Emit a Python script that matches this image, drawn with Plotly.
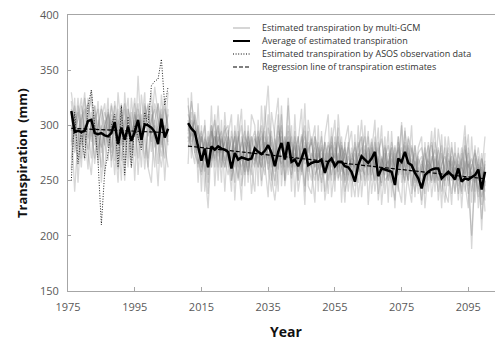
import numpy as np
import plotly.graph_objects as go

# ---- years ----
hist_years = list(range(1976, 2006))
fut_years = list(range(2011, 2101))

# ---- multi-GCM transpiration estimates, baseline period (mm) ----
gcm_hist = [
    [330, 305, 280, 318, 295, 260, 312, 290, 322, 275, 300, 285, 310, 268, 330, 295, 280, 315, 300, 272, 345, 290, 305, 320, 285, 300, 265, 328, 295, 310],
    [285, 318, 300, 270, 325, 300, 285, 310, 265, 305, 320, 280, 295, 318, 260, 300, 315, 270, 325, 290, 300, 262, 318, 305, 330, 280, 295, 310, 250, 300],
    [300, 240, 290, 310, 285, 325, 298, 270, 305, 290, 255, 315, 280, 300, 285, 320, 265, 305, 278, 312, 288, 300, 270, 295, 318, 290, 245, 305, 325, 285],
    [315, 290, 325, 282, 300, 295, 270, 318, 288, 262, 300, 310, 275, 322, 300, 268, 305, 290, 312, 250, 315, 298, 285, 262, 300, 335, 310, 280, 300, 290],
    [270, 300, 312, 290, 268, 310, 325, 282, 300, 315, 285, 268, 305, 292, 315, 282, 300, 325, 275, 298, 320, 282, 300, 318, 276, 305, 320, 290, 270, 315],
    [322, 285, 270, 305, 315, 288, 300, 265, 292, 318, 298, 280, 320, 300, 272, 310, 290, 262, 300, 325, 285, 310, 292, 270, 310, 288, 300, 315, 282, 262],
    [295, 310, 292, 262, 310, 320, 290, 300, 278, 296, 312, 300, 268, 285, 305, 290, 250, 315, 290, 305, 270, 328, 298, 310, 292, 262, 320, 300, 318, 295],
    [308, 275, 318, 300, 280, 305, 332, 295, 270, 300, 282, 312, 298, 255, 300, 318, 285, 300, 268, 302, 310, 280, 320, 290, 305, 315, 290, 272, 300, 282],
    [282, 298, 305, 325, 292, 278, 300, 318, 290, 280, 305, 295, 318, 290, 248, 305, 320, 296, 285, 310, 295, 305, 260, 300, 292, 320, 305, 282, 315, 300],
    [260, 325, 248, 300, 330, 275, 255, 305, 315, 248, 290, 325, 262, 310, 295, 250, 330, 285, 262, 320, 255, 300, 330, 262, 248, 305, 282, 262, 290, 330],
]

# ---- multi-GCM transpiration estimates, 2011-2100 (mm) ----
gcm_fut = [
    [310, 300, 285, 270, 255, 290, 248, 295, 282, 300,
     268, 285, 296, 250, 280, 262, 290, 275, 258, 285,
     295, 270, 282, 300, 336, 270, 250, 285, 300, 262,
     318, 255, 280, 262, 285, 300, 250, 272, 290, 260,
     275, 240, 262, 285, 255, 270, 290, 248, 265, 255,
     235, 270, 305, 262, 280, 250, 290, 238, 270, 262,
     268, 250, 232, 285, 262, 295, 270, 255, 240, 262,
     228, 262, 270, 250, 285, 268, 240, 262, 275, 250,
     262, 238, 270, 300, 245, 258, 230, 272, 205, 268],
    [295, 322, 300, 290, 275, 268, 285, 270, 295, 262,
     290, 270, 255, 275, 290, 250, 275, 262, 285, 270,
     262, 290, 270, 255, 298, 282, 265, 310, 255, 280,
     272, 290, 258, 282, 268, 245, 285, 262, 250, 275,
     262, 280, 250, 268, 290, 252, 262, 275, 240, 268,
     262, 248, 275, 290, 255, 280, 262, 272, 248, 275,
     250, 275, 262, 240, 303, 262, 250, 280, 265, 238,
     265, 245, 258, 282, 250, 268, 255, 230, 262, 272,
     240, 268, 252, 262, 275, 188, 262, 250, 275, 245],
    [300, 285, 310, 295, 285, 300, 262, 290, 305, 275,
     282, 300, 268, 290, 262, 285, 300, 255, 275, 290,
     275, 262, 295, 278, 265, 290, 275, 260, 295, 270,
     300, 270, 285, 250, 292, 268, 278, 285, 262, 280,
     265, 285, 272, 255, 280, 268, 250, 278, 262, 270,
     280, 265, 250, 278, 268, 285, 262, 250, 272, 258,
     275, 262, 280, 255, 270, 248, 282, 262, 250, 272,
     258, 275, 262, 248, 270, 255, 262, 280, 245, 262,
     255, 262, 240, 268, 250, 262, 278, 240, 255, 290],
    [285, 295, 275, 265, 290, 258, 282, 300, 268, 290,
     275, 262, 290, 280, 248, 295, 268, 285, 270, 255,
     288, 280, 262, 290, 275, 250, 288, 272, 265, 290,
     262, 278, 270, 290, 255, 282, 265, 250, 285, 270,
     280, 262, 285, 268, 262, 285, 270, 262, 280, 250,
     268, 285, 262, 255, 275, 262, 280, 268, 255, 282,
     262, 248, 270, 278, 255, 282, 262, 270, 248, 265,
     272, 250, 268, 262, 255, 280, 262, 250, 268, 255,
     268, 250, 262, 240, 265, 255, 248, 262, 235, 250],
    [318, 290, 295, 280, 262, 285, 275, 262, 290, 282,
     262, 290, 275, 268, 295, 278, 255, 290, 282, 268,
     280, 295, 268, 285, 260, 278, 262, 295, 285, 250,
     285, 262, 275, 268, 280, 290, 258, 275, 268, 285,
     255, 270, 282, 262, 275, 258, 280, 250, 272, 262,
     250, 275, 268, 282, 250, 270, 285, 262, 245, 270,
     282, 265, 250, 268, 280, 262, 288, 245, 268, 255,
     250, 268, 282, 260, 248, 297, 270, 258, 250, 280,
     262, 245, 275, 255, 268, 240, 262, 280, 252, 262],
    [288, 305, 292, 275, 280, 262, 225, 285, 270, 295,
     280, 268, 285, 262, 275, 290, 270, 258, 290, 275,
     268, 282, 290, 262, 285, 270, 245, 280, 270, 285,
     270, 285, 262, 272, 290, 265, 270, 288, 255, 262,
     282, 255, 270, 290, 262, 275, 258, 285, 250, 275,
     262, 280, 290, 250, 268, 275, 262, 285, 268, 250,
     255, 280, 262, 290, 248, 270, 275, 262, 282, 248,
     262, 280, 250, 272, 262, 240, 275, 262, 255, 268,
     250, 275, 262, 255, 280, 250, 270, 255, 262, 240],
    [305, 280, 298, 262, 290, 275, 290, 268, 282, 300,
     275, 285, 262, 295, 270, 252, 282, 295, 262, 280,
     290, 262, 278, 295, 270, 285, 268, 290, 262, 278,
     290, 268, 282, 258, 275, 295, 262, 268, 280, 250,
     270, 258, 275, 282, 250, 265, 282, 270, 255, 280,
     258, 272, 280, 262, 290, 255, 270, 280, 262, 255,
     270, 255, 282, 262, 268, 255, 290, 275, 255, 270,
     245, 258, 272, 285, 262, 250, 265, 272, 260, 238,
     262, 255, 280, 262, 238, 265, 250, 270, 248, 265],
    [292, 312, 280, 300, 268, 288, 280, 295, 262, 285,
     295, 262, 280, 270, 290, 268, 285, 272, 255, 290,
     265, 285, 300, 270, 290, 262, 275, 300, 280, 268,
     325, 275, 268, 290, 262, 280, 272, 262, 290, 278,
     262, 285, 260, 275, 270, 290, 262, 255, 285, 262,
     275, 258, 270, 262, 280, 262, 250, 275, 288, 265,
     262, 285, 270, 255, 275, 262, 250, 282, 262, 275,
     280, 262, 255, 268, 278, 262, 282, 250, 270, 262,
     275, 262, 250, 278, 262, 270, 255, 242, 270, 258],
    [280, 295, 305, 285, 295, 270, 262, 280, 290, 272,
     288, 275, 290, 258, 282, 270, 262, 280, 295, 262,
     282, 270, 262, 285, 278, 295, 258, 270, 290, 275,
     278, 262, 290, 270, 258, 285, 275, 290, 262, 272,
     290, 262, 275, 250, 285, 262, 272, 280, 262, 255,
     285, 262, 258, 275, 262, 288, 250, 270, 262, 280,
     250, 270, 262, 280, 265, 285, 255, 262, 275, 250,
     268, 255, 265, 250, 272, 262, 250, 265, 280, 255,
     270, 250, 265, 282, 255, 262, 275, 262, 215, 250],
    [325, 270, 312, 248, 300, 240, 295, 262, 310, 250,
     305, 240, 290, 310, 232, 285, 315, 245, 300, 262,
     240, 305, 250, 318, 262, 240, 300, 325, 245, 290,
     255, 300, 235, 285, 315, 240, 295, 262, 230, 300,
     240, 290, 310, 235, 262, 298, 230, 285, 300, 235,
     292, 235, 262, 300, 228, 275, 305, 232, 260, 290,
     230, 295, 248, 270, 300, 228, 262, 300, 235, 280,
     290, 225, 262, 295, 240, 278, 225, 290, 262, 228,
     285, 232, 270, 248, 225, 290, 240, 265, 228, 275],
    [265, 330, 275, 300, 240, 305, 255, 318, 245, 290,
     248, 312, 270, 240, 300, 262, 232, 305, 248, 310,
     300, 245, 318, 265, 235, 312, 290, 240, 310, 250,
     295, 240, 310, 250, 275, 228, 305, 282, 300, 240,
     295, 232, 255, 298, 240, 310, 265, 230, 280, 295,
     245, 300, 235, 270, 295, 238, 265, 298, 228, 262,
     295, 235, 275, 245, 230, 298, 248, 230, 282, 260,
     232, 285, 240, 265, 298, 232, 262, 245, 290, 262,
     238, 280, 225, 268, 292, 230, 282, 225, 260, 232],
    [290, 280, 265, 320, 258, 275, 238, 300, 275, 318,
     262, 295, 300, 250, 268, 310, 245, 268, 290, 238,
     268, 290, 245, 275, 310, 255, 232, 262, 318, 245,
     272, 252, 295, 240, 262, 320, 245, 238, 275, 265,
     248, 275, 238, 280, 305, 250, 285, 240, 255, 270,
     268, 255, 290, 245, 262, 280, 240, 265, 300, 238,
     265, 280, 225, 290, 262, 250, 280, 238, 262, 245,
     260, 238, 285, 235, 262, 250, 292, 240, 230, 285,
     250, 265, 238, 290, 240, 200, 255, 235, 270, 222],
]

# ---- ensemble average (mm) ----
avg_hist = [313, 294, 295, 294, 295, 304, 305, 293, 292, 293,
            291, 290, 293, 303, 283, 298, 287, 299, 286, 294,
            305, 287, 301, 300, 298, 294, 283, 306, 289, 297]
avg_fut = [302, 297, 294, 281, 268, 279, 262, 281, 278, 281,
           279, 278, 276, 261, 275, 269, 271, 270, 269, 270,
           279, 276, 274, 277, 282, 275, 263, 276, 284, 269,
           285, 267, 269, 263, 270, 279, 264, 266, 267, 267,
           269, 257, 267, 270, 263, 267, 267, 263, 262, 258,
           249, 264, 272, 269, 266, 270, 276, 254, 261, 260,
           259, 258, 246, 270, 267, 276, 266, 264, 257, 252,
           243, 255, 258, 260, 261, 261, 252, 255, 258, 255,
           251, 261, 249, 252, 251, 253, 255, 260, 242, 258]

# ---- ASOS observation-based transpiration (mm) ----
asos_hist = [250, 312, 265, 295, 270, 318, 332, 300, 268, 210,
             258, 275, 300, 310, 262, 318, 255, 308, 262, 300,
             290, 278, 312, 300, 336, 340, 342, 360, 318, 335]

# ---- axis ticks ----
x_ticks = [1975, 1995, 2015, 2035, 2055, 2075, 2095]
y_ticks = [150, 200, 250, 300, 350, 400]

legend_labels = [
    "Estimated transpiration by multi-GCM",
    "Average of estimated transpiration",
    "Estimated transpiration by ASOS observation data",
    "Regression line of transpiration estimates",
]

GRAY = "rgba(110,110,110,0.28)"
DOTS = "1px,1.6px"
DASHES = "4px,2px"

fig = go.Figure()

for series in gcm_hist:
    fig.add_trace(go.Scatter(x=hist_years, y=series, mode="lines",
                             line=dict(color=GRAY, width=1.3), hoverinfo="skip"))
for series in gcm_fut:
    fig.add_trace(go.Scatter(x=fut_years, y=series, mode="lines",
                             line=dict(color=GRAY, width=1.3), hoverinfo="skip"))

fig.add_trace(go.Scatter(x=hist_years, y=asos_hist, mode="lines",
                         line=dict(color="#222222", width=1, dash=DOTS)))

fig.add_trace(go.Scatter(x=hist_years, y=avg_hist, mode="lines",
                         line=dict(color="black", width=2.5)))
fig.add_trace(go.Scatter(x=fut_years, y=avg_fut, mode="lines",
                         line=dict(color="black", width=2.5)))

# linear regression of the ensemble average for each period
for yrs, vals in ((hist_years, avg_hist), (fut_years, avg_fut)):
    slope, intercept = np.polyfit(yrs, vals, 1)
    ends = [yrs[0], yrs[-1]]
    fig.add_trace(go.Scatter(x=ends, y=[slope * e + intercept for e in ends],
                             mode="lines",
                             line=dict(color="black", width=1.2, dash=DASHES)))

# hand-built legend box in the upper right of the plot area
L, T = 68, 15
W, H = 427, 276


def px_x(p):
    return (p - L) / W


def px_y(p):
    return (T + H - p) / H


legend_rows = [28, 41, 54, 67]
legend_styles = [
    dict(color="#c8c8c8", width=1.5),
    dict(color="black", width=2),
    dict(color="black", width=1, dash=DOTS),
    dict(color="black", width=1.2, dash=DASHES),
]
for row, style, label in zip(legend_rows, legend_styles, legend_labels):
    fig.add_shape(type="line", xref="paper", yref="paper",
                  x0=px_x(233), x1=px_x(250), y0=px_y(row), y1=px_y(row),
                  line=style)
    fig.add_annotation(x=px_x(261), y=px_y(row), xref="paper", yref="paper",
                       text=label, showarrow=False, xanchor="left", yanchor="middle",
                       borderpad=0,
                       font=dict(family="Open Sans", size=9, color="#333333"))

fig.add_annotation(x=px_x(286), y=px_y(331), xref="paper", yref="paper",
                   text="<b>Year</b>", showarrow=False, xanchor="center", yanchor="middle",
                   borderpad=0,
                   font=dict(family="Open Sans", size=14, color="#111111"))
fig.add_annotation(x=px_x(22), y=0.5, xref="paper", yref="paper",
                   text="<b>Transpiration  (mm)</b>", showarrow=False, textangle=-90,
                   xanchor="center", yanchor="middle", borderpad=0,
                   font=dict(family="Open Sans", size=13, color="#111111"))

fig.update_layout(
    width=497, height=341,
    margin=dict(l=L, r=497 - L - W, t=T, b=341 - T - H),
    paper_bgcolor="white", plot_bgcolor="white",
    showlegend=False,
    font=dict(family="Open Sans", size=11, color="#595959"),
)
fig.update_xaxes(range=[1975, 2103], tickvals=x_ticks, showgrid=False, zeroline=False,
                 showline=True, linecolor="#a6a6a6", linewidth=1, mirror=True,
                 ticks="inside", ticklen=4, tickcolor="#a6a6a6",
                 ticklabelstandoff=6)
fig.update_yaxes(range=[150, 400], tickvals=y_ticks, showgrid=False, zeroline=False,
                 showline=True, linecolor="#a6a6a6", linewidth=1,
                 ticks="inside", ticklen=3, tickcolor="#a6a6a6",
                 ticklabelstandoff=6)

fig.write_html("out.html")
